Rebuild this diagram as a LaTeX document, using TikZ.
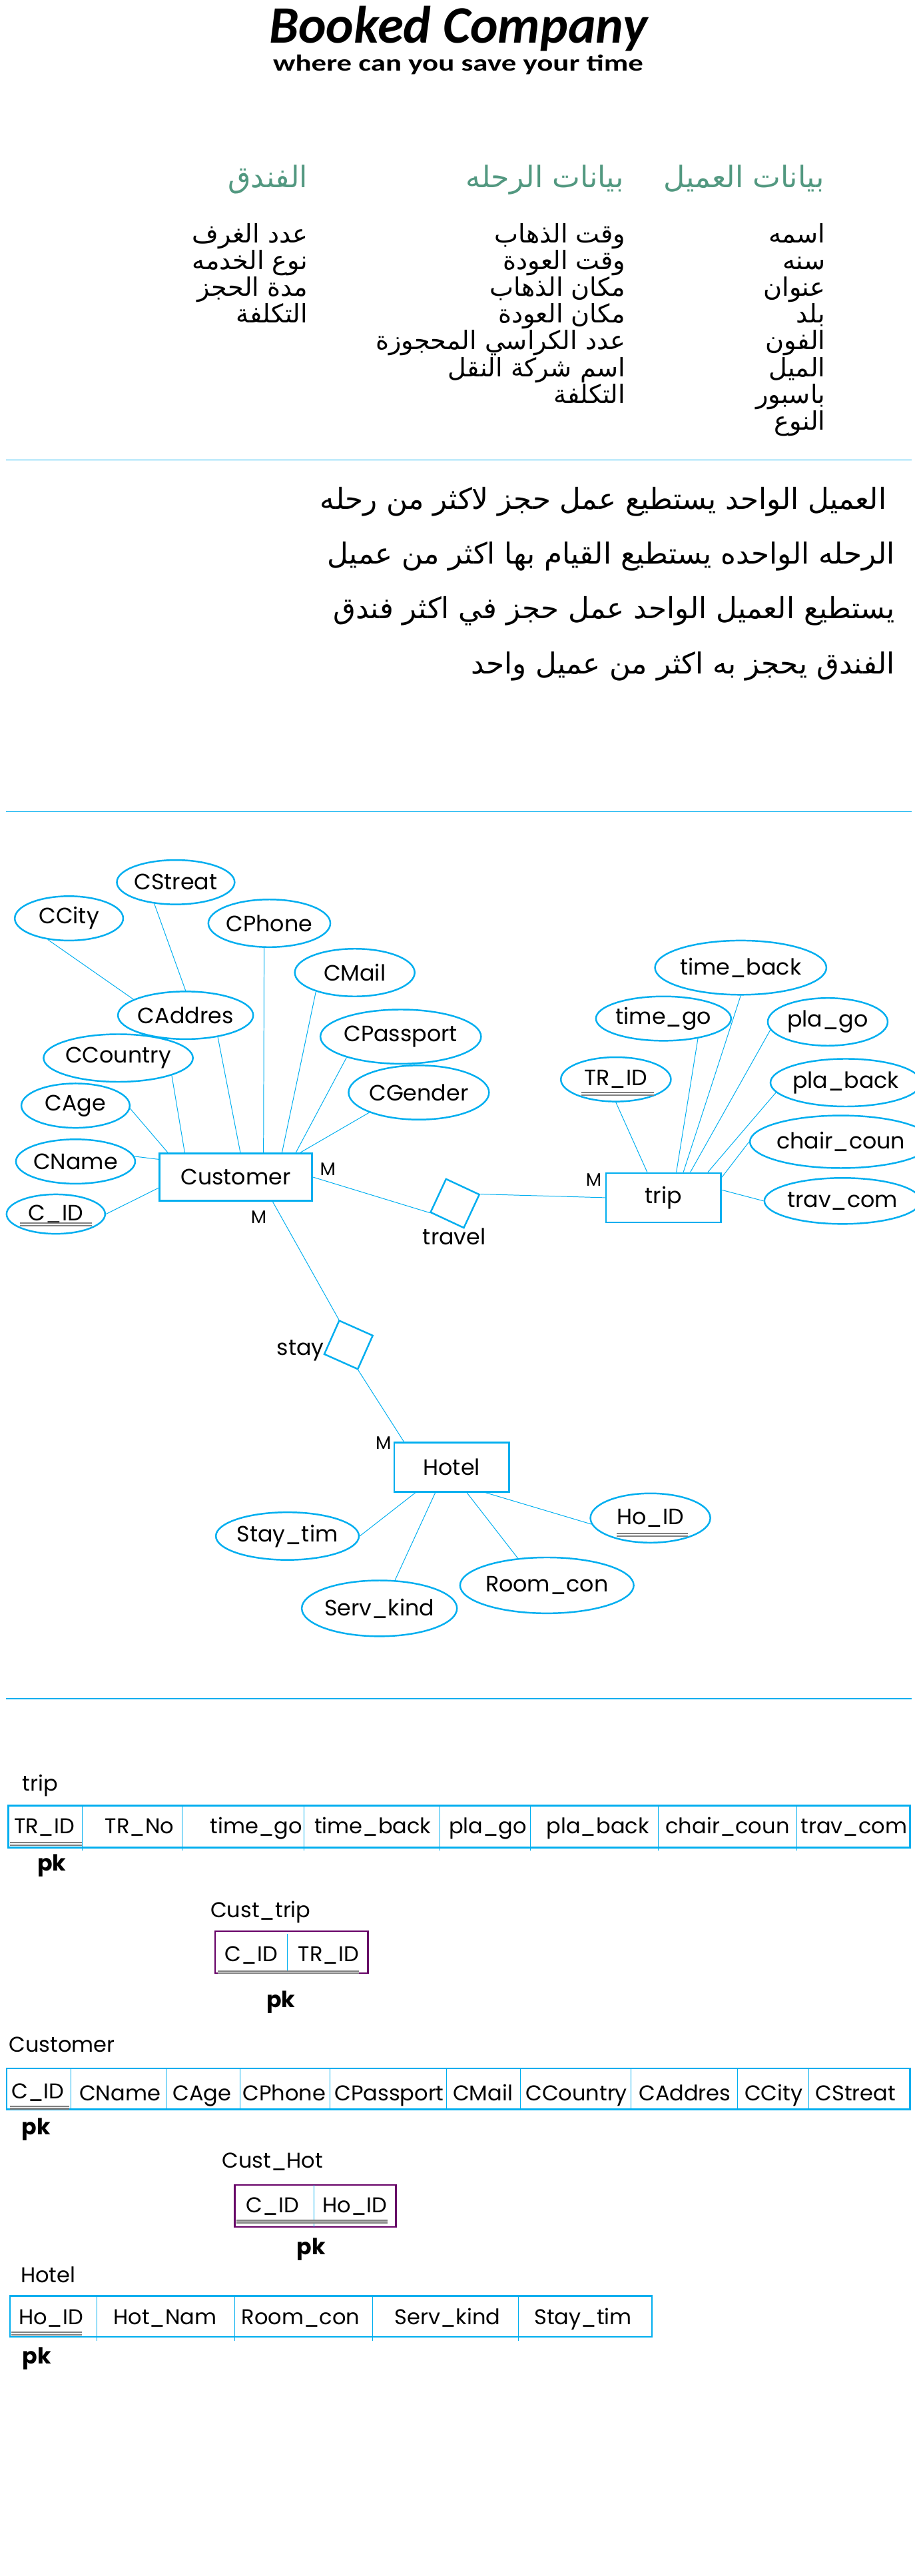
\documentclass[tikz,border=0pt]{standalone}
\usepackage{fontspec}
\usepackage{graphicx}
\usetikzlibrary{shapes.geometric,calc}
\setmainfont{Poppins}
\newfontfamily\arabicfont[Script=Arabic]{DejaVu Sans}
\newfontfamily\titlefont{Carlito}
\TeXXeTstate=1
\definecolor{cyanc}{RGB}{0,174,239}
\definecolor{greenh}{RGB}{82,152,128}
\definecolor{purpc}{RGB}{102,0,102}
\definecolor{keygray}{RGB}{128,128,128}
\newcommand{\erfont}{\fontsize{13.5}{15}\selectfont}
\newcommand{\tblfont}{\fontsize{13}{15}\selectfont}
\tikzset{
  attr/.style 2 args={ellipse, draw=cyanc, line width=1pt, minimum width=#1, minimum height=#2, inner sep=0pt, font=\erfont},
  ent/.style 2 args={rectangle, draw=cyanc, line width=1.1pt, minimum width=#1, minimum height=#2, inner sep=0pt, font=\erfont},
  rel/.style={diamond, draw=cyanc, line width=1pt, minimum width=32pt, minimum height=32pt, aspect=1, inner sep=0pt},
  conn/.style={draw=cyanc, line width=0.4pt},
  keyline/.style={draw=keygray, double=white, line width=0.9pt, double distance=0.6pt},
  mlab/.style={font=\fontsize{11}{12}\selectfont, inner sep=0pt, anchor=base},
  lbl/.style={font=\erfont, inner sep=0pt, anchor=base},
  cell/.style={font=\tblfont, inner sep=0pt, anchor=base},
  tlabel/.style={font=\tblfont, inner sep=0pt, anchor=base west},
  pklab/.style={font=\fontsize{13.5}{15}\selectfont\bfseries, inner sep=0pt, anchor=base},
  tbl/.style={draw=cyanc, line width=1pt},
  ptbl/.style={draw=purpc, line width=1pt},
  divline/.style={draw=cyanc, line width=0.4pt},
  sep/.style={draw=cyanc, line width=0.5pt},
  arhead/.style={font=\arabicfont\fontsize{18}{20}\selectfont, text=greenh, inner sep=0pt, anchor=base east},
  arlist/.style={font=\arabicfont\fontsize{15.5}{17}\selectfont, inner sep=0pt, anchor=base east},
  arsent/.style={font=\arabicfont\fontsize{17.7}{20}\selectfont, inner sep=0pt, anchor=base east},
}
\begin{document}
\begin{tikzpicture}[x=1pt,y=-1pt]
\useasboundingbox (0,0) rectangle (557,1568);
% ---------- title ----------
\node[inner sep=0pt, anchor=base] (title) at (279,26) {\titlefont\bfseries\itshape\fontsize{32}{36}\selectfont Booked Company};
\node[inner sep=0pt, anchor=base] (subtitle) at (279,43) {\scalebox{1.3}[1]{\titlefont\bfseries\fontsize{14}{16}\selectfont where can you save your time}};
% ---------- headings ----------
\node[arhead] (h1) at (502,114) {\beginR بيانات العميل\endR};
\node[arhead] (h2) at (380,114) {\beginR بيانات الرحله\endR};
\node[arhead] (h3) at (187.5,114) {\beginR الفندق\endR};
% customer list
\node[arlist] (c1) at (502.7,147.6) {\beginR اسمه\endR};
\node[arlist] (c2) at (502.7,163.9) {\beginR سنه\endR};
\node[arlist] (c3) at (502.7,180.2) {\beginR عنوان\endR};
\node[arlist] (c4) at (502.7,196.5) {\beginR بلد\endR};
\node[arlist] (c5) at (502.7,212.8) {\beginR الفون\endR};
\node[arlist] (c6) at (502.7,229.1) {\beginR الميل\endR};
\node[arlist] (c7) at (502.7,245.4) {\beginR باسبور\endR};
\node[arlist] (c8) at (502.7,261.7) {\beginR النوع\endR};
% trip list
\node[arlist] (r1) at (381,147.6) {\beginR وقت الذهاب\endR};
\node[arlist] (r2) at (381,163.9) {\beginR وقت العودة\endR};
\node[arlist] (r3) at (381,180.2) {\beginR مكان الذهاب\endR};
\node[arlist] (r4) at (381,196.5) {\beginR مكان العودة\endR};
\node[arlist] (r5) at (381,212.8) {\beginR عدد الكراسي المحجوزة\endR};
\node[arlist] (r6) at (381,229.1) {\beginR اسم شركة النقل\endR};
\node[arlist] (r7) at (381,245.4) {\beginR التكلفة\endR};
% hotel list
\node[arlist] (f1) at (187.6,147.6) {\beginR عدد الغرف\endR};
\node[arlist] (f2) at (187.6,163.9) {\beginR نوع الخدمه\endR};
\node[arlist] (f3) at (187.6,180.2) {\beginR مدة الحجز\endR};
\node[arlist] (f4) at (187.6,196.5) {\beginR التكلفة\endR};
\draw[sep] (3.5,280) -- (555,280);
% ---------- sentences ----------
\node[arsent] (s1) at (540,310) {\beginR العميل الواحد يستطيع عمل حجز لاكثر من رحله\endR};
\node[arsent] (s2) at (545,343.3) {\beginR الرحله الواحده يستطيع القيام بها اكثر من عميل\endR};
\node[arsent] (s3) at (545,376.6) {\beginR يستطيع العميل الواحد عمل حجز في اكثر فندق\endR};
\node[arsent] (s4) at (545,410) {\beginR الفندق يحجز به اكثر من عميل واحد\endR};
\draw[sep] (3.5,494) -- (555,494);
% ---------- ER diagram ----------
\node[ent={93pt}{29pt}] (cust) at (143.5,716.5) {Customer};
\node[ent={70pt}{30pt}] (trip) at (404,729) {trip};
\node[ent={70pt}{30pt}] (hotel) at (275,893) {Hotel};
\node[rel, rotate=20] (travel) at (277,732.5) {};
\node[rel, rotate=21] (stay) at (212.2,818.6) {};
\node[lbl] (travellab) at (276.6,757.5) {travel};
\node[lbl, anchor=base east] (staylab) at (197.5,825) {stay};
\node[mlab] (m1) at (199.6,715.3) {M};
\node[mlab] (m2) at (157.5,744.5) {M};
\node[mlab] (m3) at (361.5,722) {M};
\node[mlab] (m4) at (233.5,882) {M};
% customer attributes
\node[attr={66pt}{27pt}] (ccity) at (42,559) {CCity};
\node[attr={67pt}{27pt}] (cstreat) at (107,537) {CStreat};
\node[attr={73pt}{29pt}] (cphone) at (164,562) {CPhone};
\node[attr={73pt}{29pt}] (cmail) at (216,592) {CMail};
\node[attr={73pt}{29pt}] (caddr) at (113,618) {CAddres};
\node[attr={84pt}{33pt}] (cpass) at (244,631) {CPassport};
\node[attr={73pt}{29pt}] (ccountry) at (72,644) {CCountry};
\node[attr={84pt}{33pt}] (cgender) at (255,665) {CGender};
\node[attr={66pt}{27pt}] (cage) at (46,673) {CAge};
\node[attr={66pt}{27pt}] (cname) at (46,707) {CName};
\node[attr={60pt}{24pt}] (cid) at (34,739) {C\_ID};
% trip attributes
\node[attr={82pt}{33pt}] (tback) at (451,589) {time\_back};
\node[attr={67pt}{27pt}] (tgo) at (404,620) {time\_go};
\node[attr={73pt}{29pt}] (plago) at (504,622) {pla\_go};
\node[attr={67pt}{27pt}] (trid) at (375,657) {TR\_ID};
\node[attr={73pt}{29pt}] (plaback) at (515,659) {pla\_back};
\node[attr={80pt}{32pt}] (chair) at (512,695) {chair\_coun};
\node[attr={72pt}{28pt}] (travcom) at (513,731) {trav\_com};
% hotel attributes
\node[attr={74pt}{29pt}] (staytim) at (175,935) {Stay\_tim};
\node[attr={73pt}{30pt}] (hoid) at (396,924) {Ho\_ID};
\node[attr={84pt}{34pt}] (servkind) at (231,979) {Serv\_kind};
\node[attr={85pt}{34pt}] (roomcon) at (333,965) {Room\_con};
% key underlines
\draw[keyline] ($(cid.center)+(-22,6.2)$) -- ($(cid.center)+(22,6.2)$);
\draw[keyline] ($(trid.center)+(-21,8.8)$) -- ($(trid.center)+(23,8.8)$);
\draw[keyline] ($(hoid.center)+(-20.5,10.2)$) -- ($(hoid.center)+(23,10.2)$);
% relationship connectors
\draw[conn] (cust.east) -- (travel.west);
\draw[conn] (travel.east) -- (trip.west);
\draw[conn] ($(cust.south west)!0.74!(cust.south east)$) -- (stay.north);
\draw[conn] (stay.south) -- ($(hotel.north west)!0.09!(hotel.north east)$);
% customer attribute connectors
\draw[conn] (cstreat.-135) -- (caddr.north);
\draw[conn] (ccity.-135) -- (caddr.163);
\draw[conn] (caddr.-34) -- ($(cust.north west)!0.53!(cust.north east)$);
\draw[conn] (cphone.-102) -- ($(cust.north west)!0.68!(cust.north east)$);
\draw[conn] (cmail.-154) -- ($(cust.north west)!0.80!(cust.north east)$);
\draw[conn] (cpass.-159) -- ($(cust.north west)!0.89!(cust.north east)$);
\draw[conn] (cgender.-158) -- ($(cust.north west)!0.92!(cust.north east)$);
\draw[conn] (ccountry.-18) -- ($(cust.north west)!0.17!(cust.north east)$);
\draw[conn] (cage.-3) -- ($(cust.north west)!0.06!(cust.north east)$);
\draw[conn] (cname.5) -- ($(cust.north west)!0.14!(cust.south west)$);
\draw[conn] (cid.east) -- ($(cust.north west)!0.72!(cust.south west)$);
% trip attribute connectors
\draw[conn] (trid.south) -- ($(trip.north west)!0.36!(trip.north east)$);
\draw[conn] (tgo.-30) -- ($(trip.north west)!0.61!(trip.north east)$);
\draw[conn] (tback.south) -- ($(trip.north west)!0.67!(trip.north east)$);
\draw[conn] (plago.188) -- ($(trip.north west)!0.73!(trip.north east)$);
\draw[conn] (plaback.188) -- ($(trip.north west)!0.88!(trip.north east)$);
\draw[conn] (chair.west) -- ($(trip.north east)!0.1!(trip.south east)$);
\draw[conn] (travcom.west) -- ($(trip.north east)!0.35!(trip.south east)$);
% hotel attribute connectors
\draw[conn] ($(hotel.south west)!0.19!(hotel.south east)$) -- (staytim.east);
\draw[conn] ($(hotel.south west)!0.36!(hotel.south east)$) -- (servkind.61);
\draw[conn] ($(hotel.south west)!0.63!(hotel.south east)$) -- (roomcon.137);
\draw[conn] ($(hotel.south west)!0.79!(hotel.south east)$) -- (hoid.186);
\draw[sep] (3.5,1034) -- (555,1034);
% ---------- relational tables ----------
% trip
\node[tlabel] (lt) at (13.5,1090) {trip};
\draw[tbl] (5,1099) rectangle (554,1124.5);
\foreach \xx in {50,111,185,268,323,401,485} \draw[divline] (\xx,1099) -- (\xx,1126.5);
\node[cell] (t1) at (27,1116) {TR\_ID};
\node[cell] (t2) at (85,1116) {TR\_No};
\node[cell] (t3) at (156,1116) {time\_go};
\node[cell] (t4) at (227,1116) {time\_back};
\node[cell] (t5) at (297,1116) {pla\_go};
\node[cell] (t6) at (364,1116) {pla\_back};
\node[cell] (t7) at (443,1116) {chair\_coun};
\node[cell] (t8) at (520,1116) {trav\_com};
\draw[keyline] (6,1122.4) -- (50,1122.4);
\node[pklab] (pk1) at (31.5,1138.6) {pk};
% Cust_trip
\node[tlabel] (lct) at (128,1167) {Cust\_trip};
\draw[ptbl] (131,1175.5) rectangle (224,1201);
\draw[divline] (175,1177) -- (175,1200.4);
\node[cell] (ct1) at (153,1194) {C\_ID};
\node[cell] (ct2) at (200,1194) {TR\_ID};
\draw[keyline] (132.7,1200.4) -- (218.7,1200.4);
\node[pklab] (pk2) at (171,1222) {pk};
% Customer
\node[tlabel] (lc) at (5.3,1249) {Customer};
\draw[tbl] (4,1259) rectangle (554,1284);
\foreach \xx in {43,101,146,201,272,317,384,449,492.5} \draw[divline] (\xx,1259) -- (\xx,1284);
\node[cell] (u1) at (23,1277.5) {C\_ID};
\node[cell] (u2) at (73,1278.6) {CName};
\node[cell] (u3) at (123,1278.6) {CAge};
\node[cell] (u4) at (173,1278.6) {CPhone};
\node[cell] (u5) at (237,1278.6) {CPassport};
\node[cell] (u6) at (294,1278.6) {CMail};
\node[cell] (u7) at (351,1278.6) {CCountry};
\node[cell] (u8) at (417,1278.6) {CAddres};
\node[cell] (u9) at (471,1278.6) {CCity};
\node[cell] (u10) at (521,1278.6) {CStreat};
\draw[keyline] (6,1282.8) -- (42,1282.8);
\node[pklab] (pk3) at (22,1299.5) {pk};
% Cust_Hot
\node[tlabel] (lch) at (135,1319.7) {Cust\_Hot};
\draw[ptbl] (143,1330) rectangle (241,1355.5);
\draw[divline] (191,1330) -- (191,1355.5);
\node[cell] (ch1) at (166,1346.8) {C\_ID};
\node[cell] (ch2) at (216,1346.8) {Ho\_ID};
\draw[keyline] (144,1352.4) -- (236,1352.4);
\node[pklab] (pk4) at (189.5,1372.5) {pk};
% Hotel
\node[tlabel] (lh) at (12.4,1389.5) {Hotel};
\draw[tbl] (6,1397.5) rectangle (397,1422.5);
\foreach \xx in {59,143,227,315.5} \draw[divline] (\xx,1397.5) -- (\xx,1425);
\node[cell] (o1) at (31,1415) {Ho\_ID};
\node[cell] (o2) at (100.5,1415) {Hot\_Nam};
\node[cell] (o3) at (183,1415) {Room\_con};
\node[cell] (o4) at (272.5,1415) {Serv\_kind};
\node[cell] (o5) at (355,1415) {Stay\_tim};
\draw[keyline] (7,1420.3) -- (50,1420.3);
\node[pklab] (pk5) at (22.5,1439) {pk};
\end{tikzpicture}
\end{document}
